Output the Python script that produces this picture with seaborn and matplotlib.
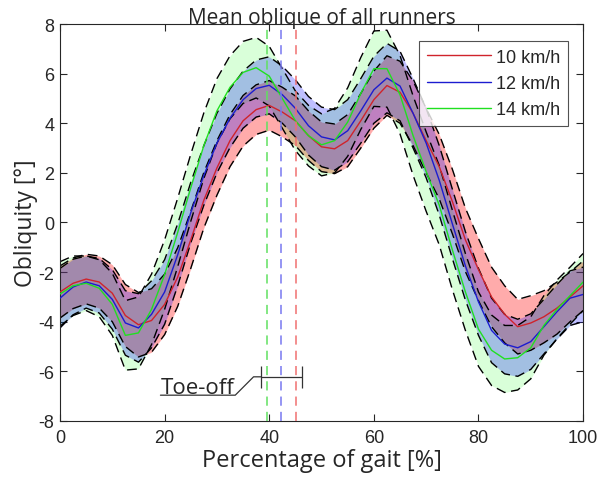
import numpy as np
import pandas as pd
import matplotlib
matplotlib.use("Agg")
import matplotlib.pyplot as plt
import seaborn as sns

# gait cycle grid [%]
gait_pct = [0, 2.5, 5, 7.5, 10, 12.5, 15, 17.5, 20, 22.5, 25, 27.5, 30, 32.5, 35, 37.5,
            40, 42.5, 45, 47.5, 50, 52.5, 55, 57.5, 60, 62.5, 65, 67.5, 70, 72.5, 75,
            77.5, 80, 82.5, 85, 87.5, 90, 92.5, 95, 97.5, 100]

# mean obliquity [deg] per speed
mean_10 = [-2.80, -2.45, -2.28, -2.40, -2.85, -3.75, -4.12, -3.95, -3.30, -2.20, -0.70,
           0.90, 2.20, 3.30, 4.10, 4.55, 4.72, 4.45, 4.10, 3.50, 3.05, 2.97, 3.30, 4.10,
           4.95, 5.52, 5.25, 4.40, 3.30, 2.25, 0.85, -0.70, -1.90, -3.00, -3.70, -4.20,
           -4.05, -3.80, -3.45, -3.00, -2.55]
mean_12 = [-3.05, -2.60, -2.40, -2.55, -3.10, -4.05, -4.25, -3.70, -2.80, -1.30, 0.40,
           1.90, 3.20, 4.20, 4.95, 5.40, 5.53, 5.15, 4.60, 3.90, 3.45, 3.33, 3.70, 4.50,
           5.35, 5.82, 5.50, 4.40, 3.20, 1.70, -0.05, -1.75, -3.20, -4.35, -4.90, -5.05,
           -4.80, -4.20, -3.60, -3.05, -2.90]
mean_14 = [-2.88, -2.55, -2.45, -2.65, -3.30, -4.55, -4.45, -3.50, -2.10, -0.40, 1.40,
           3.10, 4.50, 5.45, 6.05, 6.24, 5.90, 5.00, 4.10, 3.50, 3.13, 3.30, 4.05, 5.20,
           6.20, 6.20, 5.15, 3.50, 2.05, 0.70, -1.10, -2.80, -4.30, -5.15, -5.50, -5.45,
           -5.05, -4.15, -3.50, -2.95, -2.40]

# standard deviation per speed
sd_10 = [1.05, 1.02, 1.00, 1.05, 1.15, 1.25, 1.30, 1.28, 1.22, 1.18, 1.15, 1.12, 1.10,
         1.05, 1.02, 1.00, 1.00, 1.00, 1.00, 1.00, 1.00, 1.00, 1.05, 1.10, 1.15, 1.20,
         1.25, 1.30, 1.30, 1.30, 1.30, 1.28, 1.25, 1.20, 1.15, 1.10, 1.10, 1.05, 1.05,
         1.00, 1.00]
sd_12 = [1.20, 1.12, 1.05, 1.10, 1.20, 1.30, 1.38, 1.35, 1.30, 1.25, 1.22, 1.20, 1.20,
         1.18, 1.15, 1.15, 1.15, 1.15, 1.15, 1.18, 1.20, 1.22, 1.25, 1.30, 1.35, 1.40,
         1.40, 1.40, 1.40, 1.40, 1.40, 1.38, 1.35, 1.30, 1.20, 1.15, 1.12, 1.10, 1.10,
         1.10, 1.10]
sd_14 = [1.30, 1.20, 1.10, 1.15, 1.25, 1.40, 1.45, 1.42, 1.40, 1.38, 1.35, 1.32, 1.30,
         1.27, 1.25, 1.22, 1.20, 1.20, 1.20, 1.22, 1.25, 1.30, 1.38, 1.45, 1.52, 1.55,
         1.58, 1.60, 1.60, 1.60, 1.60, 1.55, 1.50, 1.42, 1.35, 1.30, 1.25, 1.20, 1.18,
         1.15, 1.15]

speeds = ["10 km/h", "12 km/h", "14 km/h"]
toe_off = [45.1, 42.3, 39.6]   # toe-off [% of gait] per speed
toe_off_sd = 3.9

line_colors = ["#d0232b", "#1c1cd0", "#20e020"]
# transparent pure colours, drawn red -> green -> blue like the original
fill_colors = [(1.0, 0.0, 0.0, 0.33), (0.0, 0.0, 1.0, 0.25), (0.0, 1.0, 0.0, 0.15)]
vline_colors = ["#f07070", "#7878f0", "#60e060"]

means = [mean_10, mean_12, mean_14]
sds = [sd_10, sd_12, sd_14]

df = pd.concat([pd.DataFrame({"pct": gait_pct, "obl": m, "speed": s})
                for m, s in zip(means, speeds)], ignore_index=True)

sns.set_style("ticks")
plt.rcParams["font.family"] = ["Liberation Sans", "DejaVu Sans"]
plt.rcParams["axes.unicode_minus"] = False
label_font = ["Open Sans", "DejaVu Sans"]

fig = plt.figure(figsize=(6.03, 4.81), dpi=100)
ax = fig.add_axes([0.0995, 0.1227, 0.8675, 0.8253])

# SD bands
for i in [0, 2, 1]:
    lo = np.array(means[i]) - np.array(sds[i])
    hi = np.array(means[i]) + np.array(sds[i])
    ax.fill_between(gait_pct, lo, hi, color=fill_colors[i], linewidth=0, zorder=1)
for i in [0, 2, 1]:
    lo = np.array(means[i]) - np.array(sds[i])
    hi = np.array(means[i]) + np.array(sds[i])
    ax.plot(gait_pct, lo, color="black", lw=1.0, ls=(0, (7, 4)), zorder=2)
    ax.plot(gait_pct, hi, color="black", lw=1.0, ls=(0, (7, 4)), zorder=2)

sns.lineplot(data=df, x="pct", y="obl", hue="speed", palette=line_colors,
             linewidth=1.0, ax=ax, zorder=3)

# toe-off markers
for t, c in zip(toe_off, vline_colors):
    ax.axvline(t, color=c, lw=1.1, ls=(0, (6, 4)), zorder=4)
ax.errorbar(toe_off[1], -6.22, xerr=toe_off_sd, color="#333333", lw=0.9,
            capsize=8, capthick=0.9, zorder=5)
ax.plot([19.2, 33.5, 37.0, toe_off[1] - toe_off_sd], [-6.96, -6.96, -6.22, -6.22],
        color="#333333", lw=0.9, zorder=5)
ax.text(19.3, -7.08, "Toe-off", fontsize=16, family=label_font,
        va="bottom", ha="left", zorder=5)

ax.set_xlim(0, 100)
ax.set_ylim(-8, 8)
ax.set_xticks([0, 20, 40, 60, 80, 100])
ax.set_yticks(np.arange(-8, 9, 2))
ax.tick_params(direction="in", length=5, width=0.8, top=True, right=True,
               labelsize=13, colors="#262626")
ax.tick_params(axis="x", pad=6)
ax.tick_params(axis="y", pad=4)
for sp in ax.spines.values():
    sp.set_visible(True)
    sp.set_color("#262626")
    sp.set_linewidth(0.8)

ax.set_title("Mean oblique of all runners", fontsize=15, family=label_font, pad=1)
ax.set_xlabel("Percentage of gait [%]", fontsize=17, family=label_font, labelpad=1)
ax.set_ylabel("Obliquity [°]", fontsize=16.5, family=label_font, labelpad=0)

handles, labels = ax.get_legend_handles_labels()
leg = ax.legend(handles[-3:], speeds, loc="upper right", bbox_to_anchor=(0.972, 0.958),
                fontsize=13, frameon=True, fancybox=False, edgecolor="#262626",
                handlelength=3.5, handletextpad=0.3, borderpad=0.45, labelspacing=0.5,
                borderaxespad=0)
leg.get_frame().set_linewidth(0.8)
leg.set_zorder(10)

fig.savefig("out.png", dpi=100)
